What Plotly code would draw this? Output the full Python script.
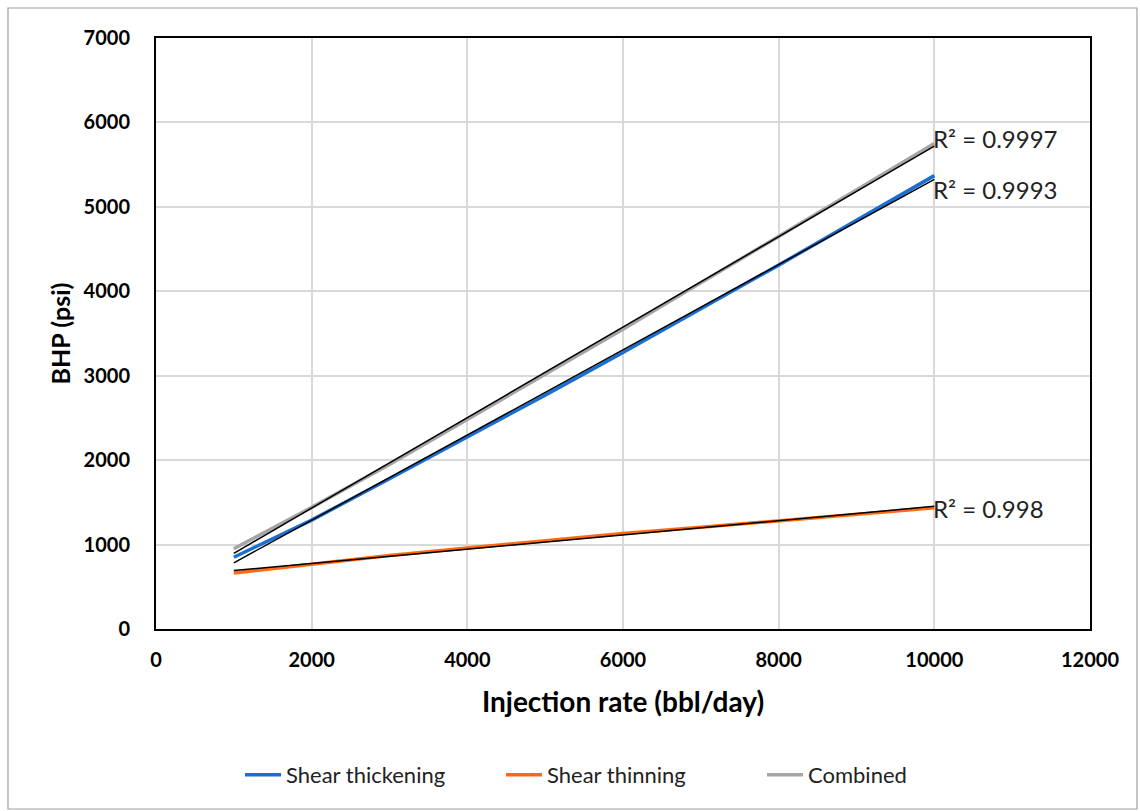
import numpy as np
import plotly.graph_objects as go

rate = [1000, 2000, 3000, 4000, 5000, 6000, 7000, 8000, 9000, 10000]
shear_thickening = [850, 1290, 1780, 2270, 2770, 3275, 3790, 4310, 4840, 5370]
shear_thinning = [663, 770, 870, 960, 1050, 1130, 1205, 1282, 1360, 1435]
combined = [950, 1440, 1950, 2480, 3010, 3550, 4100, 4650, 5200, 5750]

series = [
    ("Shear thickening", shear_thickening, "#1b6fd1"),
    ("Shear thinning", shear_thinning, "#ff6a13"),
    ("Combined", combined, "#a5a5a5"),
]

FONT = "Lato, 'Noto Sans', sans-serif"

fig = go.Figure()
for name, ys, col in series:
    fig.add_trace(go.Scatter(x=rate, y=ys, mode="lines", name=name,
                             line=dict(color=col, width=3.5)))

# linear trendlines
for name, ys, col in series:
    x = np.array(rate, float)
    y = np.array(ys, float)
    m, c = np.polyfit(x, y, 1)
    fit = m * x + c
    fig.add_trace(go.Scatter(x=[x[0], x[-1]], y=[fit[0], fit[-1]], mode="lines",
                             showlegend=False, hoverinfo="skip",
                             line=dict(color="black", width=1.5)))

r2_text = {"Shear thickening": "R² = 0.9993", "Shear thinning": "R² = 0.998", "Combined": "R² = 0.9997"}
r2_y = {"Shear thickening": 5200, "Shear thinning": 1430, "Combined": 5810}
for name in r2_text:
    fig.add_annotation(x=rate[-1], y=r2_y[name], text=r2_text[name], showarrow=False,
                       xanchor="left", yanchor="middle", xshift=-3,
                       font=dict(family=FONT, size=24, color="#222222"))

# outer frame
fig.add_shape(type="rect", xref="paper", yref="paper",
              x0=(8 - 156) / 934, x1=(1137 - 156) / 934,
              y0=(629 - 809) / 591, y1=(629 - 8) / 591,
              line=dict(color="#a0a0a0", width=1.2), layer="below")

fig.update_layout(
    width=1140, height=811,
    margin=dict(l=156, r=50, t=38, b=182),
    paper_bgcolor="white", plot_bgcolor="white",
    font=dict(family=FONT, color="black"),
    legend=dict(orientation="h", x=(240 - 156) / 934, xanchor="left", y=(629 - 775) / 591, yanchor="middle",
                font=dict(family=FONT, size=22, color="#222222"),
                itemwidth=36, tracegroupgap=0, entrywidth=210),
    showlegend=True,
)
fig.update_xaxes(range=[0, 12000], dtick=2000, tick0=0, tickformat="d",
                 showgrid=True, gridcolor="#d9d9d9", gridwidth=2,
                 showline=True, linecolor="black", linewidth=2, mirror=True,
                 ticks="", zeroline=False, ticklabelstandoff=12,
                 tickfont=dict(family=FONT, size=20, color="black", weight="bold"),
                 title=dict(text="<b>Injection rate (bbl/day)</b>", font=dict(family=FONT, size=28), standoff=22))
fig.update_yaxes(range=[0, 7000], dtick=1000, tick0=0, tickformat="d",
                 showgrid=True, gridcolor="#d9d9d9", gridwidth=2,
                 showline=True, linecolor="black", linewidth=2, mirror=True,
                 ticks="", zeroline=False, ticklabelstandoff=20,
                 tickfont=dict(family=FONT, size=20, color="black", weight="bold"),
                 title=dict(text="<b>BHP (psi)</b>", font=dict(family=FONT, size=25), standoff=6))

fig.write_html("out.html")
